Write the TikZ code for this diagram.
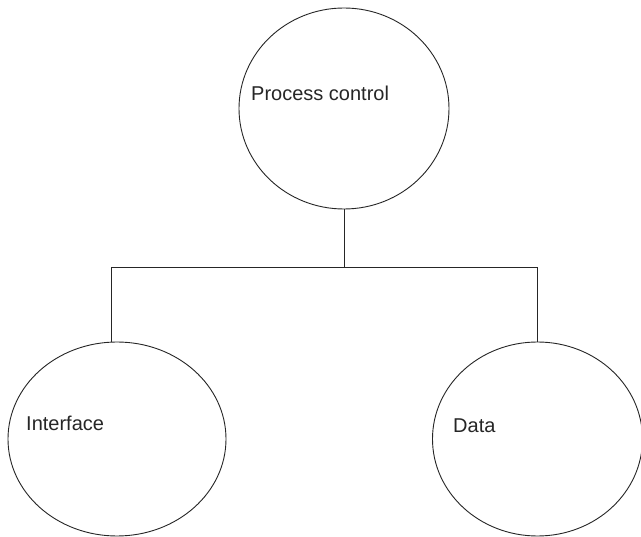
\documentclass[tikz,border=0pt]{standalone}
\usepackage{fontspec}
\setmainfont{Liberation Sans}
\usetikzlibrary{shapes.geometric}
\begin{document}
\begin{tikzpicture}[x=1pt,y=-1pt,
  bubble/.style={draw=black!85,line width=0.9pt,ellipse,inner sep=0pt},
  lbl/.style={anchor=west,inner sep=0pt,text=black!85,font=\fontsize{20}{24}\selectfont},
  link/.style={draw=black!85,line width=0.9pt}]
\useasboundingbox[fill=white] (0,0) rectangle (641,537);
\node[bubble,minimum width=210pt,minimum height=201pt] (pc) at (344,108.5) {};
\node[bubble,minimum width=218pt,minimum height=194pt] (iface) at (117,439) {};
\node[bubble,minimum width=210pt,minimum height=194pt] (dat) at (537.5,439) {};
\node[lbl] (tpc) at (251,93) {Process control};
\node[lbl] (tif) at (26,423) {Interface};
\node[lbl] (tda) at (453,426) {Data};
\coordinate (j) at (343,267);
\draw[link] (pc.south) -- (pc.south |- j);
\draw[link] (iface.93) -- (iface.93 |- j) -- (dat.north |- j) -- (dat.north);
\end{tikzpicture}
\end{document}
